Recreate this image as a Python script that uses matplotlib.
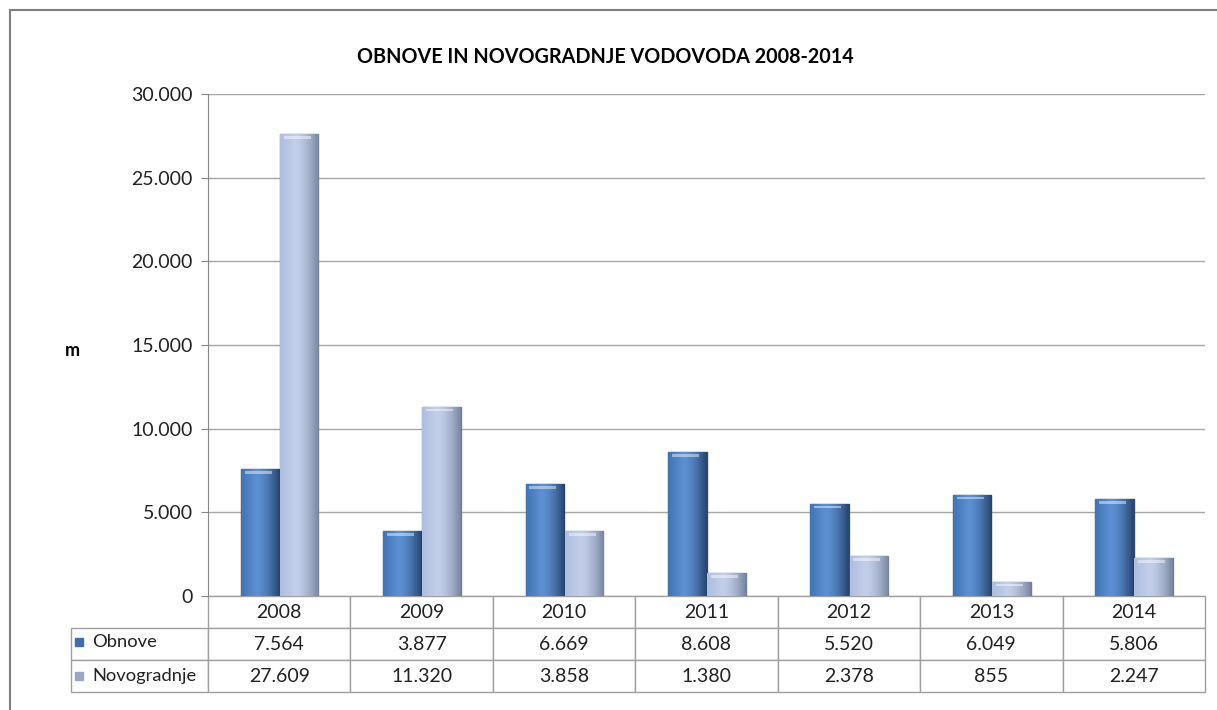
import numpy as np
import matplotlib.pyplot as plt
from matplotlib.patches import Rectangle
from matplotlib.colors import to_rgb
from matplotlib.ticker import FuncFormatter

plt.rcParams['font.family'] = ['Lato', 'DejaVu Sans']

years = ['2008', '2009', '2010', '2011', '2012', '2013', '2014']
obnove = [7564, 3877, 6669, 8608, 5520, 6049, 5806]
novogradnje = [27609, 11320, 3858, 1380, 2378, 855, 2247]
series = ['Obnove', 'Novogradnje']


def fmt(v):
    return f'{int(v):,}'.replace(',', '.')


def shade(ax, bars, left, mid, right):
    # fake the excel 3d look with a horizontal gradient
    t = np.linspace(0, 1, 80)
    l, m, r = np.array(to_rgb(left)), np.array(to_rgb(mid)), np.array(to_rgb(right))
    grad = np.zeros((1, 80, 3))
    for i, v in enumerate(t):
        if v < 0.4:
            grad[0, i] = l + (m - l) * v / 0.4
        else:
            grad[0, i] = m + (r - m) * ((v - 0.4) / 0.6) ** 1.6
    for b in bars:
        x0, w, h = b.get_x(), b.get_width(), b.get_height()
        im = ax.imshow(grad, extent=[x0, x0 + w, 0, h], aspect='auto',
                       zorder=3, interpolation='bilinear')
        im.set_clip_path(b)
        # light rim at the top of each bar
        ax.bar(x0 + w * 0.45, 160, width=w * 0.7, bottom=h - 280,
               color='white', alpha=0.45, zorder=4, linewidth=0)


fig = plt.figure(figsize=(12.17, 7.10), dpi=100)
ax = fig.add_axes([208 / 1217, 1 - 596 / 710, 997 / 1217, 502 / 710])

x = np.arange(len(years))
w = 0.27
b1 = ax.bar(x - 0.135, obnove, width=w, color='#4F81BD', edgecolor='#2C4D75',
            linewidth=1, zorder=2)
b2 = ax.bar(x + 0.14, novogradnje, width=w, color='#B9C7E4', edgecolor='#6F7D9A',
            linewidth=1, zorder=2)
shade(ax, b1, '#4274B3', '#5C90D2', '#26436B')
shade(ax, b2, '#AEBEDF', '#C3CFEA', '#77859F')

ax.set_xlim(-0.5, len(years) - 0.5)
ax.set_ylim(0, 30000)
ax.set_yticks(np.arange(0, 30001, 5000))
ax.yaxis.set_major_formatter(FuncFormatter(lambda v, p: fmt(v)))
ax.tick_params(axis='y', labelsize=14, colors='#868686', labelcolor='#222222',
               length=5, pad=6)
ax.set_xticks([])
ax.yaxis.grid(True, color='#A6A6A6', linewidth=1)
ax.set_axisbelow(True)
for s in ['top', 'right', 'bottom']:
    ax.spines[s].set_visible(False)
ax.spines['left'].set_color('#868686')

# data table under the plot
cells = [[''] + years,
         [''] + [fmt(v) for v in obnove],
         [''] + [fmt(v) for v in novogradnje]]
left = (71 - 208) / 997
tab = ax.table(cellText=cells, cellLoc='center',
               colWidths=[137] + [997 / 7] * 7,
               bbox=[left, -96 / 502, 1 - left, 96 / 502])
tab.auto_set_font_size(False)
tab.set_fontsize(14)
for (r, c), cell in tab.get_celld().items():
    cell.set_edgecolor('#A0A0A0')
    cell.set_linewidth(1)
    cell.get_text().set_color('#222222')
tab[0, 0].visible_edges = ''

for i, (name, col) in enumerate(zip(series, ['#3E6DA8', '#9AA8C6'])):
    yy = -(642 - 596 + 34 * i) / 502
    ax.add_patch(Rectangle(((75 - 208) / 997, yy - 4 / 502), 8 / 997, 8 / 502,
                           transform=ax.transAxes, color=col, clip_on=False))
    ax.text((92 - 208) / 997, yy, name, transform=ax.transAxes, fontsize=13.2,
            va='center', ha='left', color='#222222')

fig.text(605 / 1217, 1 - 57 / 710, 'OBNOVE IN NOVOGRADNJE VODOVODA 2008-2014',
         ha='center', va='center', fontsize=14.2, fontweight='bold')
fig.text(72 / 1217, 1 - 350 / 710, 'm', ha='center', va='center',
         fontsize=13, fontweight='bold')

fig.add_artist(Rectangle((10 / 1217, -0.05), 1.1, 1 - 10 / 710 + 0.05,
                         transform=fig.transFigure, fill=False,
                         edgecolor='#808080', linewidth=1.5))

fig.savefig('out.png', dpi=100)
